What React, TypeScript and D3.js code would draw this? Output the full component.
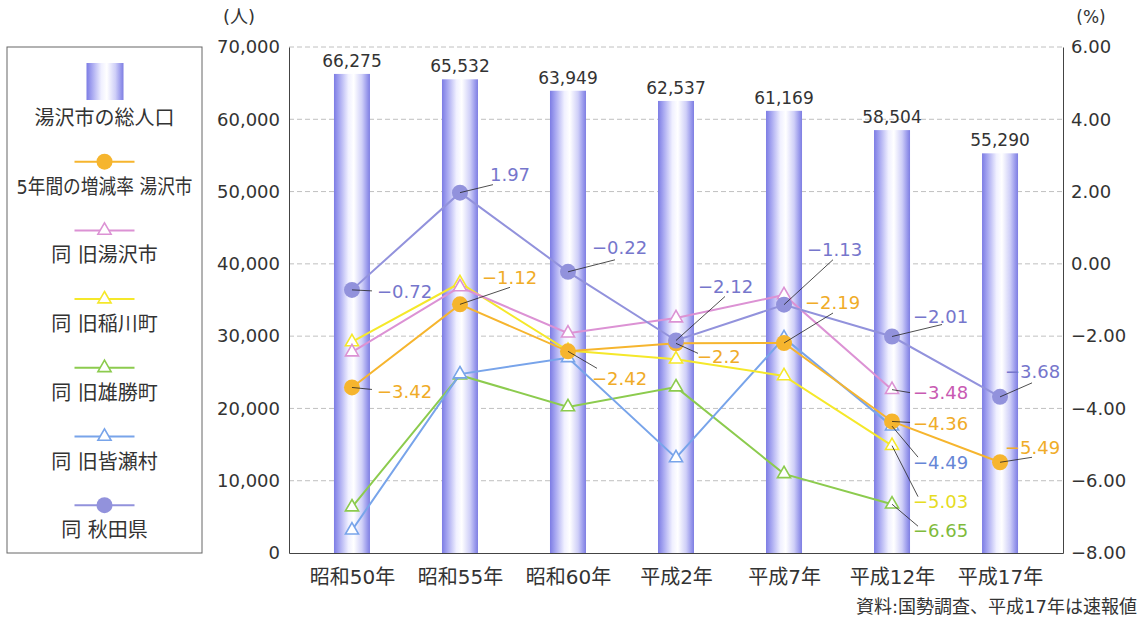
import React, { useEffect, useRef } from 'react';
import * as d3 from 'd3';

// 国勢調査の人口と5年間の増減率
const categories = ['昭和50年', '昭和55年', '昭和60年', '平成2年', '平成7年', '平成12年', '平成17年'];
const population = [66275, 65532, 63949, 62537, 61169, 58504, 55290];
const rateYuzawa = [-3.42, -1.12, -2.42, -2.2, -2.19, -4.36, -5.49];
const rateOldYuzawa = [-2.44, -0.64, -1.92, -1.5, -0.86, -3.48, null];
const rateInakawa = [-2.16, -0.53, -2.4, -2.64, -3.1, -5.03, null];
const rateOgachi = [-6.73, -3.08, -3.96, -3.41, -5.81, -6.65, null];
const rateMinase = [-7.37, -3.05, -2.6, -5.37, -2.05, -4.49, null];
const rateAkita = [-0.72, 1.97, -0.22, -2.12, -1.13, -2.01, -3.68];
const leftTicks = [0, 10000, 20000, 30000, 40000, 50000, 60000, 70000];
const rightTicks = [-8, -6, -4, -2, 0, 2, 4, 6];

const FONT = "'DejaVu Sans', 'Noto Sans CJK JP', sans-serif";

type Series = {
  name: string;
  values: (number | null)[];
  color: string;
  text: string;
  marker: 'circle' | 'triangle';
  // index -> [text dx, text dy, leader dx, leader dy]
  labels: Record<number, number[]>;
};

// draw order (bottom first)
const lineSeries: Series[] = [
  { name: '同 旧雄勝町', values: rateOgachi, color: '#8ccb4e', text: '#7fbb3c', marker: 'triangle',
    labels: { 5: [21, 26, 26, 22] } },
  { name: '同 旧皆瀬村', values: rateMinase, color: '#78a4ea', text: '#6686d6', marker: 'triangle',
    labels: { 5: [21, 37, 26, 31] } },
  { name: '同 旧稲川町', values: rateInakawa, color: '#f5e82a', text: '#e6dc22', marker: 'triangle',
    labels: { 5: [21, 56, 26, 51] } },
  { name: '同 旧湯沢市', values: rateOldYuzawa, color: '#dc92d4', text: '#c85ab2', marker: 'triangle',
    labels: { 5: [21, 3, 18, 3] } },
  { name: '5年間の増減率 湯沢市', values: rateYuzawa, color: '#f6b52e', text: '#f0ac28', marker: 'circle',
    labels: { 0: [25, 4, 20, 2], 1: [22, -27, 50, -17], 2: [24, 27, 29, 17], 3: [21, 13, 22, 10],
      4: [21, -40, 49, -30], 5: [21, 2, 18, 1], 6: [5, -15, 32, -5] } },
  { name: '同 秋田県', values: rateAkita, color: '#9292dc', text: '#7676cc', marker: 'circle',
    labels: { 0: [25, 2, 20, 1], 1: [30, -18, 33, -8], 2: [24, -24, 47, -12], 3: [22, -54, 49, -44],
      4: [23, -55, 49, -45], 5: [21, -20, 50, -12], 6: [5, -25, 32, -14] } },
];

const legendOrder = ['5年間の増減率 湯沢市', '同 旧湯沢市', '同 旧稲川町', '同 旧雄勝町', '同 旧皆瀬村', '同 秋田県'];

function fmtRate(v: number) {
  return String(v).replace('-', '\u2212');
}

export default function App() {
  const ref = useRef<SVGSVGElement>(null);

  useEffect(() => {
    const svg = d3.select(ref.current);
    svg.selectAll('*').remove();

    const left = 289, right = 1063, top = 47, bottom = 553;
    const barW = 36;

    const x = d3.scalePoint<string>().domain(categories).range([left, right]).padding(0.583);
    const yL = d3.scaleLinear().domain([0, 70000]).range([bottom, top]);
    const yR = d3.scaleLinear().domain([-8, 6]).range([bottom, top]);

    const defs = svg.append('defs');
    const grad = defs.append('linearGradient').attr('id', 'barGrad')
      .attr('x1', 0).attr('x2', 1).attr('y1', 0).attr('y2', 0);
    [[0, '#7c7ce4'], [0.14, '#a4a4f0'], [0.4, '#f0f0ff'], [0.55, '#ffffff'],
     [0.78, '#cfcff8'], [0.92, '#9a9aec'], [1, '#7e7ee2']].forEach(([o, c]) => {
      grad.append('stop').attr('offset', o as number).attr('stop-color', c as string);
    });

    // grid lines
    svg.append('g').selectAll('line')
      .data(leftTicks.filter(t => t > 0))
      .enter().append('line')
      .attr('x1', left).attr('x2', right)
      .attr('y1', d => yL(d)).attr('y2', d => yL(d))
      .attr('stroke', '#b0b0b0').attr('stroke-width', 0.8).attr('stroke-dasharray', '5,3');

    // bars
    svg.append('g').selectAll('rect')
      .data(population)
      .enter().append('rect')
      .attr('x', (d, i) => (x(categories[i]) as number) - barW / 2)
      .attr('y', d => yL(d))
      .attr('width', barW)
      .attr('height', d => bottom - yL(d))
      .attr('fill', 'url(#barGrad)');

    svg.append('g').selectAll('text')
      .data(population)
      .enter().append('text')
      .attr('x', (d, i) => x(categories[i]) as number)
      .attr('y', d => yL(d) - 7)
      .attr('text-anchor', 'middle')
      .attr('font-family', FONT).attr('font-size', 17).attr('fill', '#333')
      .text(d => d3.format(',')(d));

    // axes
    const styleAxis = (g: any, size: number) => {
      g.select('.domain').attr('stroke', '#444');
      g.selectAll('text').attr('font-family', FONT).attr('font-size', size).attr('fill', '#333');
    };
    svg.append('g').attr('transform', `translate(${left},0)`)
      .call(d3.axisLeft(yL).tickValues(leftTicks).tickFormat(d3.format(',') as any).tickSize(0).tickPadding(9))
      .call(g => styleAxis(g, 18));
    svg.append('g').attr('transform', `translate(${right},0)`)
      .call(d3.axisRight(yR).tickValues(rightTicks).tickFormat(d3.format('.2f') as any).tickSize(0).tickPadding(8))
      .call(g => styleAxis(g, 18));
    svg.append('g').attr('transform', `translate(0,${bottom})`)
      .call(d3.axisBottom(x).tickSize(0).tickPadding(17))
      .call(g => styleAxis(g, 20));

    // lines + markers
    const line = d3.line<number | null>()
      .defined(d => d != null)
      .x((d, i) => x(categories[i]) as number)
      .y(d => yR(d as number));

    const tri = d3.symbol().type(d3.symbolTriangle).size(75)();

    lineSeries.forEach(s => {
      const g = svg.append('g');
      g.append('path').datum(s.values).attr('d', line)
        .attr('fill', 'none').attr('stroke', s.color).attr('stroke-width', 2);
      const pts = s.values.map((v, i) => ({ v, i })).filter(p => p.v != null);
      if (s.marker === 'circle') {
        g.selectAll('circle').data(pts).enter().append('circle')
          .attr('cx', p => x(categories[p.i]) as number)
          .attr('cy', p => yR(p.v as number))
          .attr('r', 8).attr('fill', s.color);
      } else {
        g.selectAll('path.m').data(pts).enter().append('path').attr('class', 'm')
          .attr('d', tri)
          .attr('transform', p => `translate(${x(categories[p.i])},${yR(p.v as number)})`)
          .attr('fill', '#fff').attr('stroke', s.color).attr('stroke-width', 1.6);
      }
    });

    // value labels with leader lines
    lineSeries.forEach(s => {
      const g = svg.append('g');
      Object.keys(s.labels).forEach(k => {
        const i = +k;
        const v = s.values[i] as number;
        const [tdx, tdy, ldx, ldy] = s.labels[i];
        const px = x(categories[i]) as number;
        const py = yR(v);
        g.append('line').attr('x1', px).attr('y1', py).attr('x2', px + ldx).attr('y2', py + ldy)
          .attr('stroke', '#222').attr('stroke-width', 0.8);
        g.append('text').attr('x', px + tdx).attr('y', py + tdy).attr('dy', '0.35em')
          .attr('font-family', FONT).attr('font-size', 18).attr('fill', s.text)
          .text(fmtRate(v));
      });
    });

    // unit labels and source
    svg.append('text').attr('x', 239).attr('y', 17).attr('dy', '0.35em').attr('text-anchor', 'middle')
      .attr('font-family', FONT).attr('font-size', 18).attr('fill', '#333').text('(人)');
    svg.append('text').attr('x', 1091).attr('y', 17).attr('dy', '0.35em').attr('text-anchor', 'middle')
      .attr('font-family', FONT).attr('font-size', 17).attr('fill', '#333').text('(%)');
    svg.append('text').attr('x', 1137).attr('y', 607).attr('dy', '0.35em').attr('text-anchor', 'end')
      .attr('font-family', FONT).attr('font-size', 18).attr('fill', '#333').text('資料:国勢調査、平成17年は速報値');

    // legend
    const lg = svg.append('g');
    lg.append('rect').attr('x', 7).attr('y', 47).attr('width', 195).attr('height', 506)
      .attr('fill', '#fff').attr('stroke', '#666').attr('stroke-width', 1);
    const lx = 104.5;
    const rowY = (i: number) => 118 + i * 68.7;
    lg.append('rect').attr('x', lx - 18).attr('y', rowY(0) - 55).attr('width', 37).attr('height', 37)
      .attr('fill', 'url(#barGrad)');
    lg.append('text').attr('x', lx).attr('y', rowY(0)).attr('dy', '0.35em').attr('text-anchor', 'middle')
      .attr('font-family', FONT).attr('font-size', 20).attr('fill', '#333').text('湯沢市の総人口');
    legendOrder.forEach((name, j) => {
      const s = lineSeries.find(d => d.name === name) as Series;
      const cy = rowY(j + 1);
      const sy = cy - 25;
      lg.append('line').attr('x1', lx - 30).attr('x2', lx + 30).attr('y1', sy).attr('y2', sy)
        .attr('stroke', s.color).attr('stroke-width', 2);
      if (s.marker === 'circle') {
        lg.append('circle').attr('cx', lx).attr('cy', sy).attr('r', 8).attr('fill', s.color);
      } else {
        lg.append('path').attr('d', tri).attr('transform', `translate(${lx},${sy})`)
          .attr('fill', '#fff').attr('stroke', s.color).attr('stroke-width', 1.6);
      }
      const t = lg.append('text').attr('x', lx).attr('y', cy).attr('dy', '0.35em').attr('text-anchor', 'middle')
        .attr('font-family', FONT).attr('font-size', 20).attr('fill', '#333').text(name);
      if (name.length > 8) t.attr('textLength', 176).attr('lengthAdjust', 'spacingAndGlyphs');
    });
  }, []);

  return (
    <svg ref={ref} width={1144} height={621}
      style={{ position: 'absolute', left: 0, top: 0, background: '#fff' }} />
  );
}
